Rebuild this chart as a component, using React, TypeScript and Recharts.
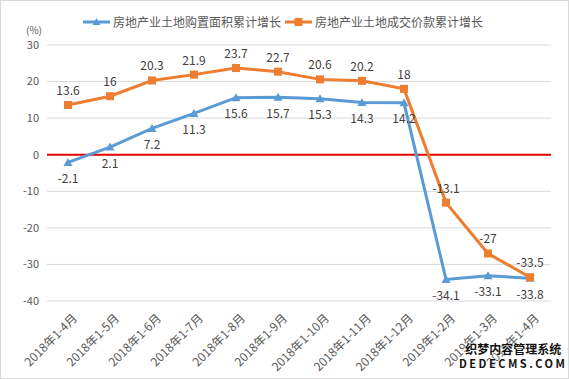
import {
  LineChart,
  Line,
  XAxis,
  YAxis,
  CartesianGrid,
  ReferenceLine,
  LabelList,
} from 'recharts';

const months = [
  '2018年1-4月', '2018年1-5月', '2018年1-6月', '2018年1-7月', '2018年1-8月', '2018年1-9月',
  '2018年1-10月', '2018年1-11月', '2018年1-12月', '2019年1-2月', '2019年1-3月', '2019年1-4月',
];
const areaGrowth = [-2.1, 2.1, 7.2, 11.3, 15.6, 15.7, 15.3, 14.3, 14.2, -34.1, -33.1, -33.8];
const priceGrowth = [13.6, 16, 20.3, 21.9, 23.7, 22.7, 20.6, 20.2, 18, -13.1, -27, -33.5];
const yTicks = [-40, -30, -20, -10, 0, 10, 20, 30];

const AREA_NAME = '房地产业土地购置面积累计增长';
const PRICE_NAME = '房地产业土地成交价款累计增长';
const BLUE = '#5B9BD5';
const ORANGE = '#ED7D31';
const FONT = '"Noto Sans CJK SC", "Microsoft YaHei", sans-serif';

const data = months.map((m, i) => ({ name: m, area: areaGrowth[i], price: priceGrowth[i] }));

const Triangle = (props: any) => {
  const { cx, cy } = props;
  if (cx == null || cy == null) return null;
  return <path d={`M${cx},${cy - 4.5} L${cx + 4.5},${cy + 3.5} L${cx - 4.5},${cy + 3.5} Z`} fill={BLUE} />;
};

const Square = (props: any) => {
  const { cx, cy } = props;
  if (cx == null || cy == null) return null;
  return <rect x={cx - 4} y={cy - 4} width={8} height={8} fill={ORANGE} />;
};

const MonthTick = (props: any) => {
  const { x, y, payload } = props;
  return (
    <g transform={`translate(${x + 10},${y + 10})`}>
      <text transform="rotate(-45)" textAnchor="end" fontSize={12} fill="#595959" fontFamily={FONT}>
        {payload.value}
      </text>
    </g>
  );
};

export default function App() {
  return (
    <div style={{ position: 'absolute', left: 0, top: 0, width: 569, height: 379, background: '#fff', overflow: 'hidden' }}>
      <div style={{ position: 'absolute', left: 0, top: 0, width: 567, height: 377, border: '1px solid #d9d9d9' }} />
      <div style={{ position: 'absolute', left: 83, top: 13, display: 'flex', alignItems: 'center', fontFamily: FONT, fontSize: 12, color: '#595959' }}>
        <svg width={27} height={10} style={{ marginRight: 3 }}>
          <line x1={0} y1={5} x2={27} y2={5} stroke={BLUE} strokeWidth={3} />
          <path d="M13.5,1 L17.5,8 L9.5,8 Z" fill={BLUE} />
        </svg>
        <span style={{ marginRight: 4 }}>{AREA_NAME}</span>
        <svg width={27} height={10} style={{ marginRight: 3 }}>
          <line x1={0} y1={5} x2={27} y2={5} stroke={ORANGE} strokeWidth={3} />
          <rect x={9.5} y={1} width={8} height={8} fill={ORANGE} />
        </svg>
        <span>{PRICE_NAME}</span>
      </div>
      <div style={{ position: 'absolute', left: 26, top: 22, fontSize: 10, color: '#595959', fontFamily: FONT }}>(%)</div>
      <div style={{ position: 'absolute', left: 0, top: 0 }}>
        <LineChart width={569} height={379} data={data} margin={{ top: 45, right: 18, bottom: 0, left: 0 }}>
          <CartesianGrid vertical={false} stroke="#d9d9d9" />
          <XAxis
            dataKey="name"
            height={78}
            axisLine={false}
            tickLine={false}
            interval={0}
            padding={{ left: 21, right: 21 }}
            tick={<MonthTick />}
          />
          <YAxis
            width={47}
            domain={[-40, 30]}
            ticks={yTicks}
            axisLine={false}
            tickLine={false}
            tick={{ fontSize: 11, fill: '#595959', fontFamily: FONT }}
          />
          <ReferenceLine y={0} stroke="#E00000" strokeWidth={2} />
          <Line
            dataKey="area"
            name={AREA_NAME}
            stroke={BLUE}
            strokeWidth={3}
            dot={<Triangle />}
            isAnimationActive={false}
          >
            <LabelList dataKey="area" position="bottom" offset={12} fontSize={12} fill="#404040" fontFamily={FONT} />
          </Line>
          <Line
            dataKey="price"
            name={PRICE_NAME}
            stroke={ORANGE}
            strokeWidth={3}
            dot={<Square />}
            isAnimationActive={false}
          >
            <LabelList dataKey="price" position="top" offset={10} fontSize={12} fill="#404040" fontFamily={FONT} />
          </Line>
        </LineChart>
      </div>
      <div style={{ position: 'absolute', left: 459, top: 342, fontFamily: FONT, fontWeight: 700, fontSize: 12, color: '#111', textShadow: '0 0 2px #fff, 0 0 2px #fff', lineHeight: '14px', textAlign: 'center' }}>
        <div>织梦内容管理系统</div>
        <div style={{ letterSpacing: 2.5, fontSize: 11 }}>DEDECMS.COM</div>
      </div>
    </div>
  );
}
